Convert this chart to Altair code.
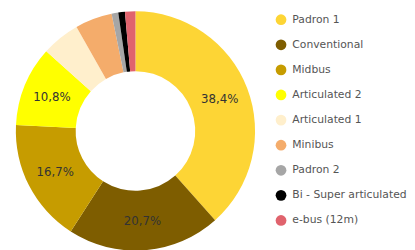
import altair as alt
import pandas as pd

categories = ["Padron 1", "Conventional", "Midbus", "Articulated 2", "Articulated 1",
              "Minibus", "Padron 2", "Bi - Super articulated", "e-bus (12m)"]
shares = [38.4, 20.7, 16.7, 10.8, 5.2, 5.0, 0.9, 0.9, 1.4]
colors = ["#FDD535", "#7E5D00", "#C69C00", "#FFFF00", "#FFEFCC",
          "#F4AC6B", "#A6A6A6", "#000000", "#E0636D"]
labels = [f"{v:.1f}".replace(".", ",") + "%" if v >= 10 else "" for v in shares]

df = pd.DataFrame({
    "category": categories,
    "share": shares,
    "idx": list(range(len(categories))),
    "label": labels,
})

base = alt.Chart(df).encode(
    theta=alt.Theta("share:Q", stack=True),
    order=alt.Order("idx:Q", sort="ascending"),
    x=alt.value(130),
    y=alt.value(123),
)

arcs = base.mark_arc(innerRadius=61, outerRadius=122).encode(
    color=alt.Color(
        "category:N",
        scale=alt.Scale(domain=categories, range=colors),
        legend=alt.Legend(
            title=None, orient="none", legendX=273, legendY=4,
            symbolType="circle", symbolSize=120, symbolStrokeWidth=0,
            symbolOpacity=1,
            labelFont="DejaVu Sans", labelFontSize=11, labelColor="#555555",
            rowPadding=13.6, labelOffset=6, padding=0,
        ),
    )
)

texts = base.mark_text(radius=92, font="DejaVu Sans", fontSize=12,
                       color="#333333").encode(text="label:N")

chart = (arcs + texts).properties(
    width=407, height=242, autosize="none", padding=0
).configure_view(stroke=None)

chart.save("out.html", embed_options={"renderer": "svg", "actions": False})
